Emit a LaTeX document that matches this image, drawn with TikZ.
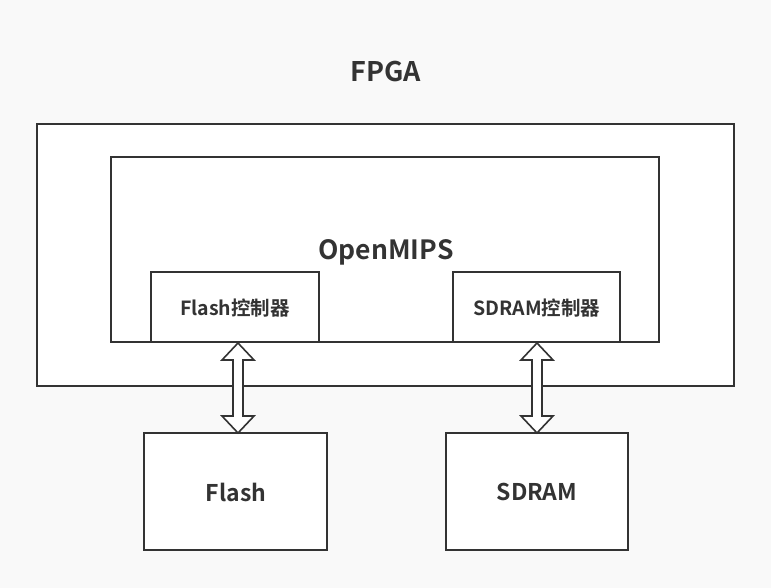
\documentclass[tikz,border=0pt]{standalone}
\usepackage{fontspec}
\setmainfont{Noto Sans CJK SC}[BoldFont={Noto Sans CJK SC Bold}]
\definecolor{bgc}{HTML}{F9F9F9}
\definecolor{ink}{HTML}{333333}
\begin{document}
\begin{tikzpicture}[x=1pt,y=-1pt,
  box/.style={draw=ink,line width=2.4pt,fill=white},
  lbl/.style={text=ink},
  dblarrow/.style={draw=ink,line width=1.6pt,fill=white,line join=miter}]
\fill[bgc] (0,0) rectangle (771,588);
\useasboundingbox (0,0) rectangle (771,588);
\draw[box] (37,124) rectangle (734,386);
\draw[box] (111,157) rectangle (659,342);
\draw[box] (151,272) rectangle (319,342);
\draw[box] (453,272) rectangle (620,342);
\draw[box] (144,433) rectangle (327,550);
\draw[box] (446,433) rectangle (628,550);
\node[lbl,font=\bfseries\fontsize{27}{30}\selectfont] (fpga) at (386,72) {FPGA};
\node[lbl,font=\bfseries\fontsize{26.5}{30}\selectfont] (mips) at (386,252) {OpenMIPS};
\node[lbl,font=\bfseries\fontsize{19.5}{22}\selectfont] (fc) at (235,308) {Flash控制器};
\node[lbl,font=\bfseries\fontsize{19.5}{22}\selectfont] (sc) at (537,308) {SDRAM控制器};
\node[lbl,font=\bfseries\fontsize{23}{26}\selectfont] (fl) at (236,492) {Flash};
\node[lbl,font=\bfseries\fontsize{23}{26}\selectfont] (sd) at (537,492) {SDRAM};
\foreach \cx in {238,537}{
  \draw[dblarrow] (\cx,343) -- (\cx+16,360) -- (\cx+5,360) -- (\cx+5,416) -- (\cx+16,416)
    -- (\cx,433) -- (\cx-16,416) -- (\cx-5,416) -- (\cx-5,360) -- (\cx-16,360) -- cycle;
}
\end{tikzpicture}
\end{document}
